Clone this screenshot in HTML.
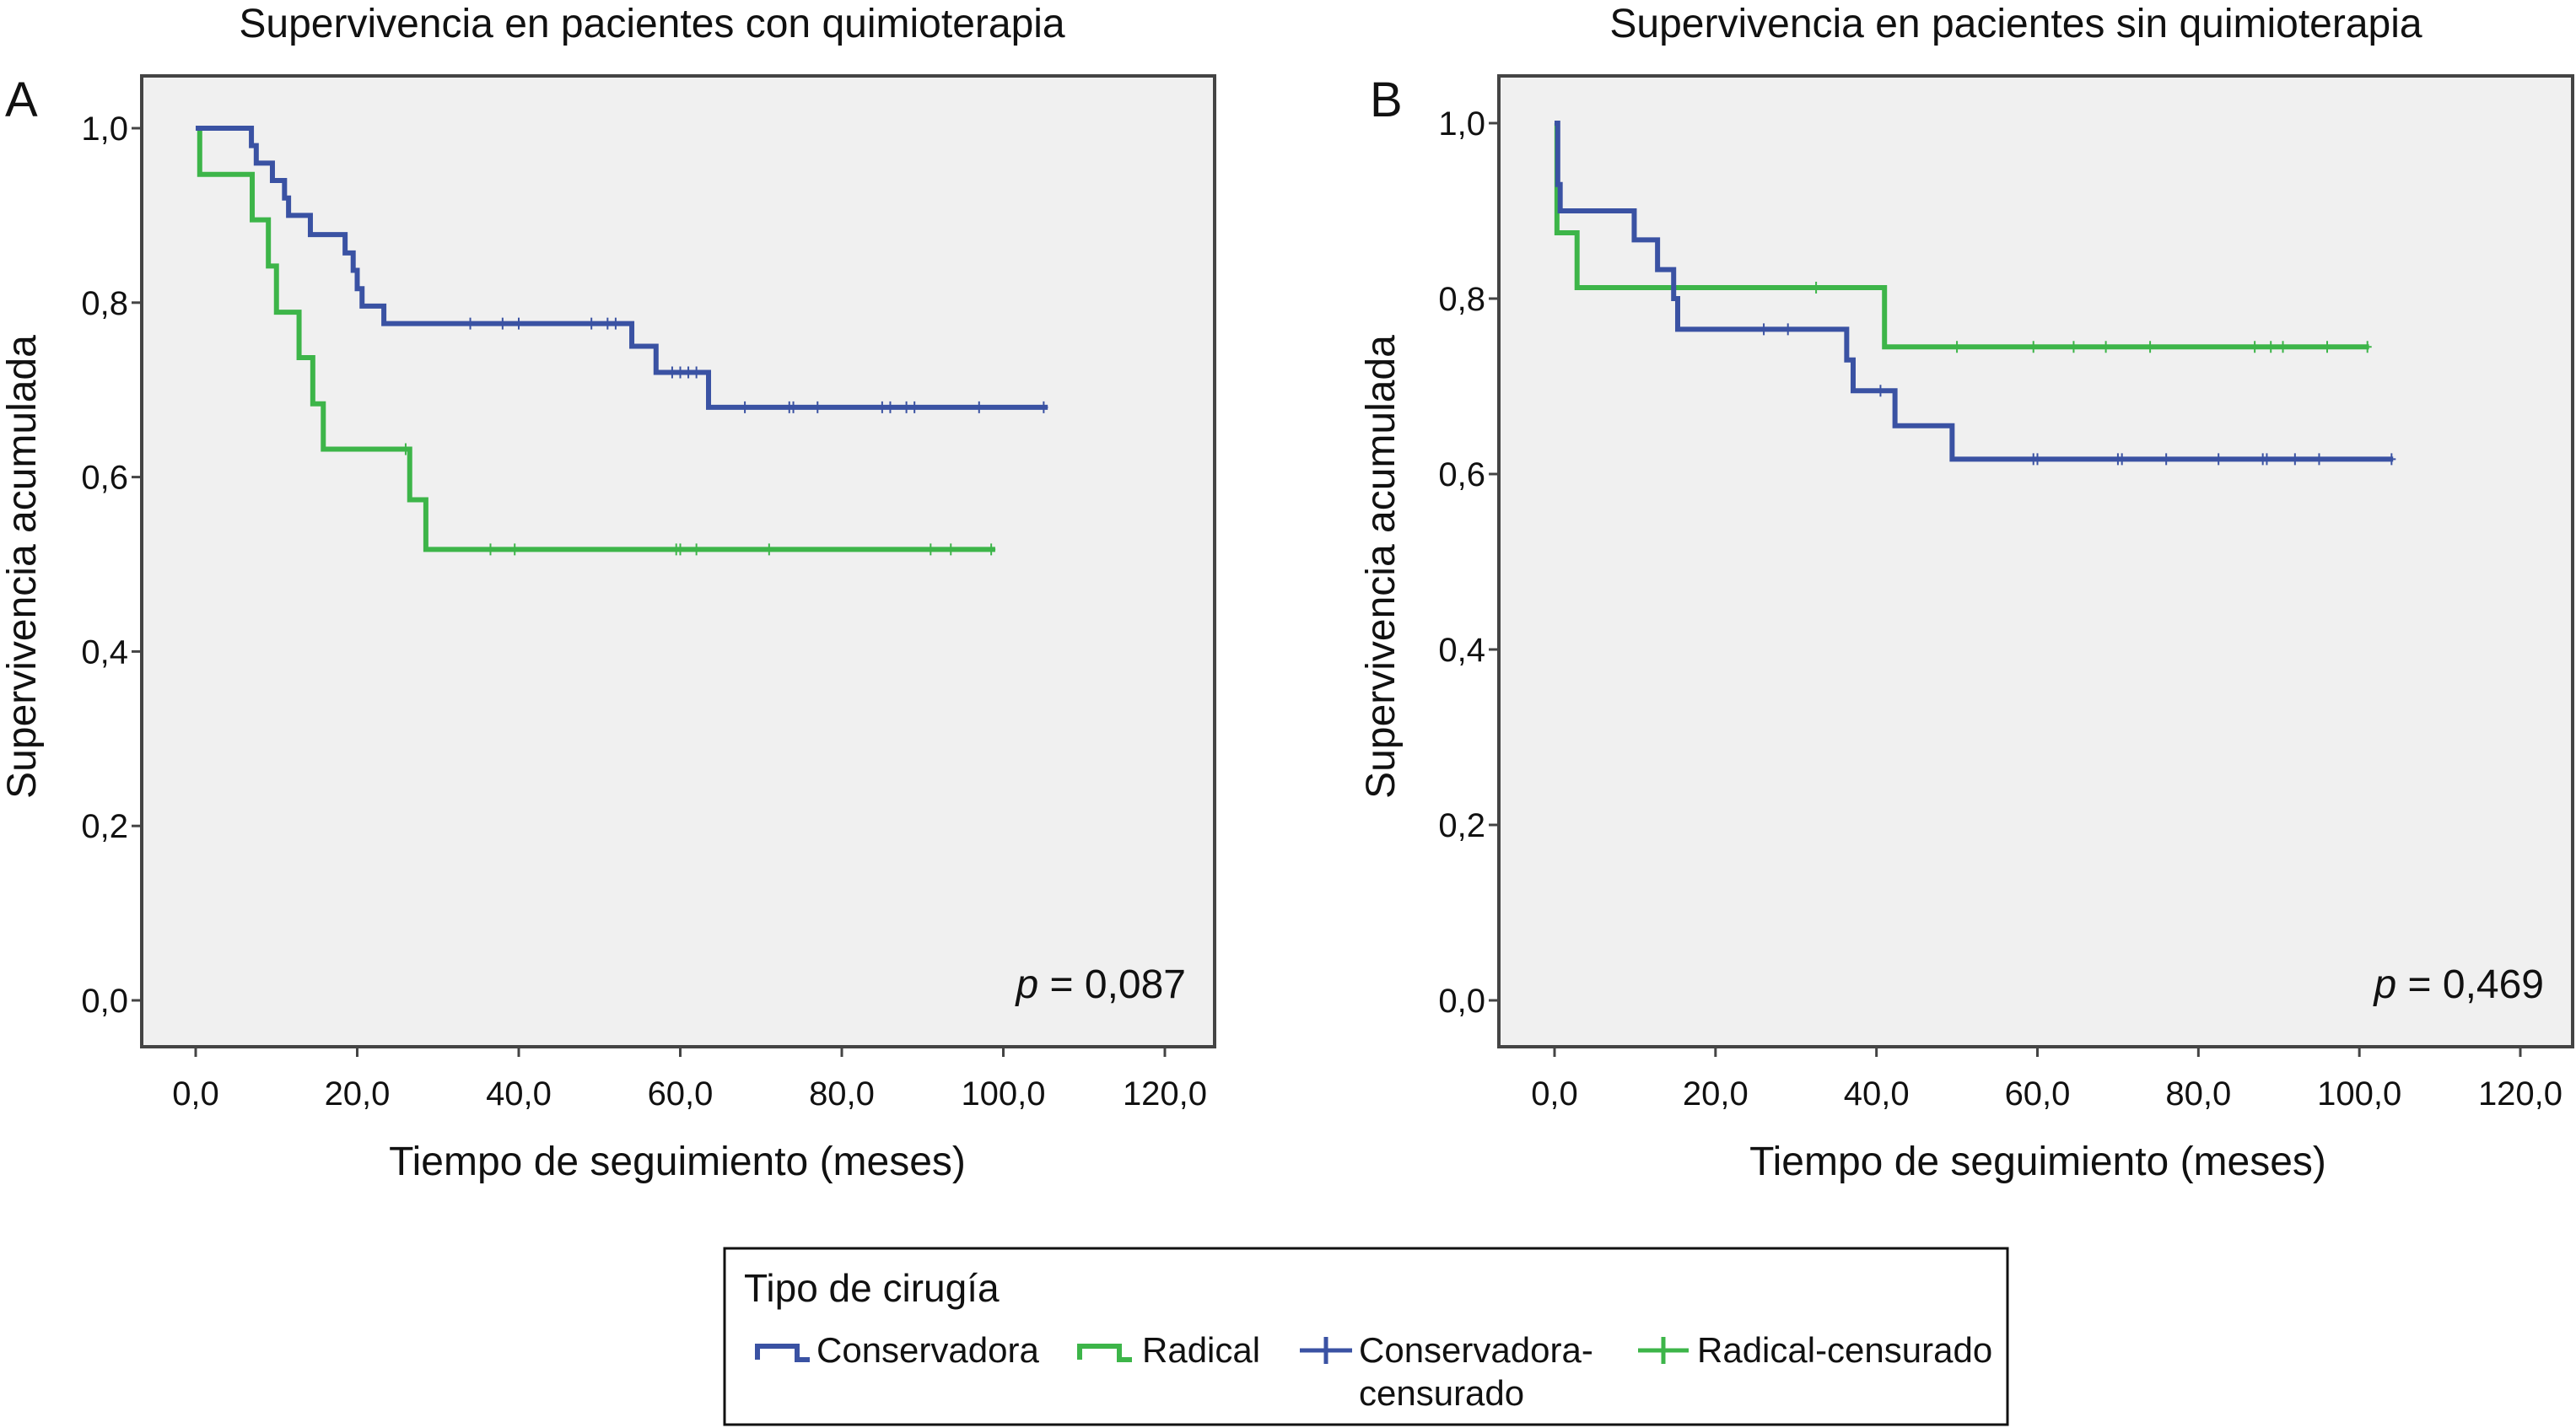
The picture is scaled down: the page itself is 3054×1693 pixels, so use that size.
<!DOCTYPE html>
<html><head><meta charset="utf-8"><style>
body{margin:0;background:#fff;}
svg{display:block;font-family:"Liberation Sans",sans-serif;}
</style></head><body>
<svg id="chart" width="3054" height="1693" viewBox="0 0 3054 1693"></svg>
<script>
// Panel A data (with chemo)
const aBlueTimes=[0,6.9,7.5,9.5,11.0,11.5,14.2,18.5,19.5,20.0,20.6,23.3,54.0,57.0,63.5];
const aBlueSurv=[1,0.98,0.96,0.94,0.92,0.90,0.878,0.857,0.837,0.816,0.796,0.776,0.75,0.72,0.68];
const aBlueEnd=105.5;
const aBlueCensT=[34,38,40,49,51,52,59,60,61,62,68,73.5,74,77,85,86,88,89,97,105];
const aGreenTimes=[0,0.5,7,9,10,12.8,14.5,15.8,26.5,28.5];
const aGreenSurv=[1,0.947,0.895,0.842,0.789,0.737,0.684,0.632,0.574,0.517];
const aGreenEnd=99;
const aGreenCensT=[26,36.5,39.5,59.5,60,62,71,91,93.5,98.5];
// Panel B data (without chemo)
const bBlueTimes=[0,0.4,0.7,9.9,12.8,14.8,15.3,36.3,37.1,42.3,49.4];
const bBlueSurv=[1,0.93,0.90,0.867,0.833,0.80,0.765,0.73,0.695,0.655,0.617];
const bBlueEnd=104.2;
const bBlueCensT=[26,29,40.5,59.5,60,70,70.5,76,82.5,88,88.5,92,95,104];
const bGreenTimes=[0,0.3,2.8,41];
const bGreenSurv=[1,0.875,0.8125,0.745];
const bGreenEnd=101.2;
const bGreenCensT=[32.5,50,59.5,64.5,68.5,74,87,89,90.5,96,101];
const xTicks=[0,20,40,60,80,100,120];
const xTickLabels=["0,0","20,0","40,0","60,0","80,0","100,0","120,0"];
const yTicks=[0,0.2,0.4,0.6,0.8,1.0];
const yTickLabels=["0,0","0,2","0,4","0,6","0,8","1,0"];

const NS="http://www.w3.org/2000/svg";
const svg=document.getElementById('chart');
const BLUE="#3a52a3",GREEN="#3db549";
function mk(tag,attrs,parent){const e=document.createElementNS(NS,tag);for(const k in attrs)e.setAttribute(k,attrs[k]);(parent||svg).appendChild(e);return e;}
function txt(s,attrs,parent){const e=mk('text',attrs,parent);e.textContent=s;return e;}

function panel(cfg){
  const g=mk('g',{});
  
  
  const X=t=>cfg.x0+(cfg.x120-cfg.x0)*t/120;
  const Y=s=>cfg.y0+(cfg.y1-cfg.y0)*s;
  const fr=mk('rect',{x:cfg.fx,y:cfg.fy,width:cfg.fw,height:cfg.fh,fill:"#f0f0f0",stroke:"#444",'stroke-width':4},g);
  
  const t=txt(cfg.title,{x:cfg.tx,y:44,'font-size':48,'text-anchor':'middle',fill:'#111'},g);
  
  const l=txt(cfg.letter,{x:cfg.lx,y:138,'font-size':58,fill:'#111'},g);
  
  const fb=cfg.fy+cfg.fh;
  xTicks.forEach((v,i)=>{
    const tk=mk('line',{x1:X(v),x2:X(v),y1:fb,y2:fb+12,stroke:'#444','stroke-width':3},g);
    
    const lb=txt(xTickLabels[i],{x:X(v),y:1310,'font-size':40,'text-anchor':'middle',fill:'#111'},g);
    
  });
  yTicks.forEach((v,i)=>{
    const tk=mk('line',{x1:cfg.fx-12,x2:cfg.fx,y1:Y(v),y2:Y(v),stroke:'#444','stroke-width':3},g);
    
    const lb=txt(yTickLabels[i],{x:cfg.fx-16,y:Y(v)+14,'font-size':40,'text-anchor':'end',fill:'#111'},g);
    
  });
  const xt=txt('Tiempo de seguimiento (meses)',{x:cfg.xtx,y:1393,'font-size':48,'text-anchor':'middle',fill:'#111'},g);
  
  const yt=txt('Supervivencia acumulada',{x:0,y:0,'font-size':48,'text-anchor':'middle',fill:'#111',transform:`translate(${cfg.ytx},672) rotate(-90)`},g);
  
  const p=mk('text',{x:cfg.fx+cfg.fw-34,y:1183,'font-size':48,'text-anchor':'end',fill:'#111'},g);
  p.innerHTML='<tspan font-style="italic">p</tspan> = '+cfg.p;
  
  cfg.series.forEach(s=>{
    let d=`M${X(s.t[0])},${Y(s.s[0])}`;
    for(let i=1;i<s.t.length;i++){d+=` H${X(s.t[i])} V${Y(s.s[i])}`;}
    d+=` H${X(s.end)}`;
    const pa=mk('path',{d:d,fill:'none',stroke:s.c,'stroke-width':6},g);
    
    s.cens.forEach(ct=>{
      let k=0;for(let i=0;i<s.t.length;i++)if(s.t[i]<=ct)k=i;
      const cx=X(ct),cy=Y(s.s[k]);
      const c=mk('path',{d:`M${cx},${cy-7}V${cy+7}M${cx-5},${cy}H${cx+5}`,stroke:s.c,'stroke-width':2,fill:'none'},g);
      
    });
  });
}
panel({name:'panel-a',fx:168,fy:90,fw:1272,fh:1151,x0:232,x120:1381,y0:1186,y1:152,tx:773,lx:6,ytx:42,xtx:803,
  title:'Supervivencia en pacientes con quimioterapia',letter:'A',p:'0,087',
  series:[{name:'radical',c:GREEN,t:aGreenTimes,s:aGreenSurv,end:aGreenEnd,cens:aGreenCensT},
          {name:'conservadora',c:BLUE,t:aBlueTimes,s:aBlueSurv,end:aBlueEnd,cens:aBlueCensT}]});
panel({name:'panel-b',fx:1777,fy:90,fw:1273,fh:1151,x0:1843,x120:2988,y0:1186,y1:146,tx:2390,lx:1624,ytx:1653,xtx:2416,
  title:'Supervivencia en pacientes sin quimioterapia',letter:'B',p:'0,469',
  series:[{name:'radical',c:GREEN,t:bGreenTimes,s:bGreenSurv,end:bGreenEnd,cens:bGreenCensT},
          {name:'conservadora',c:BLUE,t:bBlueTimes,s:bBlueSurv,end:bBlueEnd,cens:bBlueCensT}]});
</script>
<div style="position:absolute;left:0;top:0;width:3054px;height:1693px;pointer-events:none;">
<svg width="3054" height="1693" style="position:absolute;left:0;top:0">
 <rect x="859" y="1480" width="1521" height="209" fill="#fff" stroke="#111" stroke-width="3"/>
 <text x="882" y="1543" font-size="46" fill="#111" font-family="Liberation Sans, sans-serif">Tipo de cirugía</text>
 <g>
  <path d="M898,1612 V1596 H945 V1612 H960" fill="none" stroke="#3a52a3" stroke-width="6"/>
  <text x="968" y="1615" font-size="42" fill="#111" font-family="Liberation Sans, sans-serif">Conservadora</text>
 </g>
 <g>
  <path d="M1280,1612 V1596 H1327 V1612 H1342" fill="none" stroke="#3db549" stroke-width="6"/>
  <text x="1354" y="1615" font-size="42" fill="#111" font-family="Liberation Sans, sans-serif">Radical</text>
 </g>
 <g>
  <path d="M1541,1601 H1603 M1572,1585 V1617" fill="none" stroke="#3a52a3" stroke-width="5"/>
  <text x="1611" y="1615" font-size="42" fill="#111" font-family="Liberation Sans, sans-serif">Conservadora-</text>
  <text x="1611" y="1666" font-size="42" fill="#111" font-family="Liberation Sans, sans-serif">censurado</text>
 </g>
 <g>
  <path d="M1942,1601 H2002 M1972,1585 V1617" fill="none" stroke="#3db549" stroke-width="5"/>
  <text x="2012" y="1615" font-size="42" fill="#111" font-family="Liberation Sans, sans-serif">Radical-censurado</text>
 </g>
</svg>
</div>
</body></html>
